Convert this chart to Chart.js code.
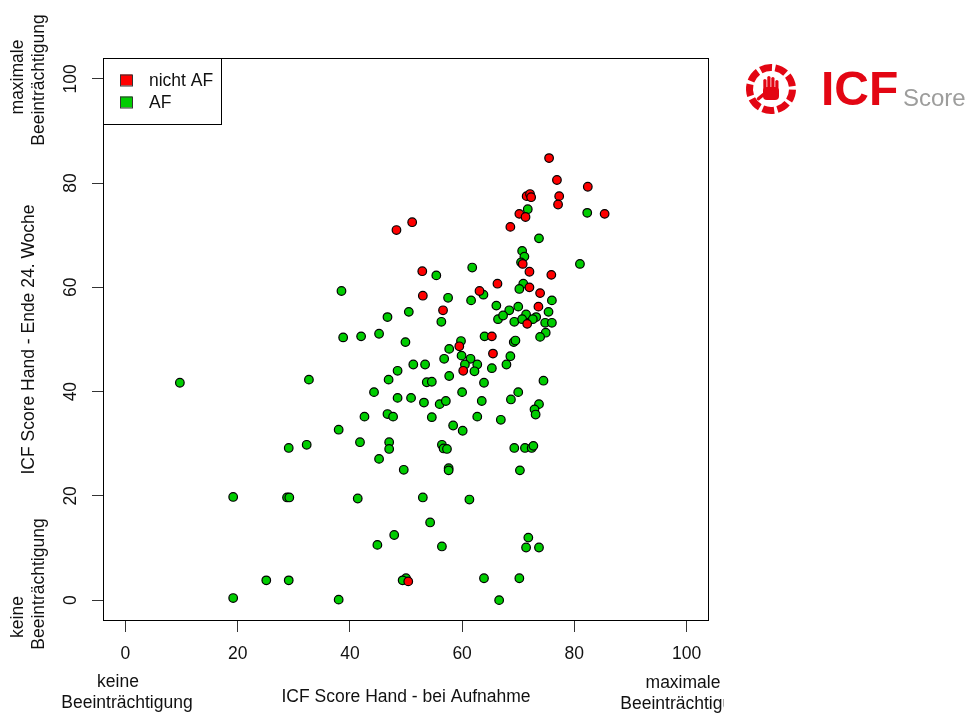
<!DOCTYPE html>
<html>
<head>
<meta charset="utf-8">
<script src="https://cdn.jsdelivr.net/npm/chart.js@4"></script>
<style>
  body { margin: 0; background: #fff; }
  canvas { display: block; }
</style>
</head>
<body>
<canvas id="icfChart" width="970" height="713"></canvas>
<script>
// Werte (Aufnahme = x, Ende 24. Woche = y)
const nichtAfX = [75.5, 76.9, 82.4, 71.5, 72.1, 72.3, 77.3, 77.1, 70.2, 71.3,
                  85.4, 48.3, 51.1, 68.6, 70.8, 72.0, 52.9, 75.9, 66.3, 72.0,
                  73.9, 53.0, 63.1, 56.6, 73.6, 71.6, 65.3, 59.5, 65.5, 60.2,
                  50.4];
const nichtAfY = [84.8, 80.6, 79.3, 77.5, 77.9, 77.3, 77.5, 75.9, 74.1, 73.5,
                  74.1, 71.0, 72.5, 71.6, 64.5, 63.0, 63.1, 62.4, 60.7, 60.0,
                  58.9, 58.4, 59.3, 55.6, 56.3, 53.0, 50.6, 48.7, 47.3, 44.0,
                  3.6];

const afX = [71.7, 82.3, 73.7, 70.7, 71.1, 70.5, 81.0, 55.4, 61.8, 70.9,
             70.2, 63.8, 57.5, 61.6, 76.0, 38.5, 66.1, 50.5, 46.7, 56.3,
             66.4, 38.8, 42.0, 45.2, 49.9, 64.0, 59.8, 57.7, 59.9, 56.8,
             61.5, 60.5, 62.7, 51.3, 53.4, 65.3, 62.2, 48.5, 46.9, 32.7,
             57.7, 63.9, 53.7, 54.6, 44.3, 60.0, 48.5, 50.9, 53.2, 56.0,
             57.1, 63.5, 42.6, 46.7, 47.7, 54.6, 62.7, 66.9, 58.4, 60.1,
             38.0, 70.0, 68.4, 67.3, 71.4, 73.2, 75.4, 69.3, 70.7, 72.6,
             74.8, 76.0, 74.9, 73.9, 69.2, 69.5, 68.6, 67.9, 74.5, 70.0,
             68.7, 73.7, 72.9, 73.1, 69.3, 71.2, 72.4, 72.7, 9.7, 29.1,
             32.3, 19.2, 28.8, 29.2, 25.1, 29.1, 19.2, 38.0, 41.8, 47.0,
             47.0, 56.4, 56.7, 57.3, 45.2, 49.6, 57.6, 57.6, 70.3, 41.4,
             53.0, 61.3, 54.3, 47.9, 44.9, 56.4, 71.8, 71.4, 73.7, 50.0,
             49.4, 63.9, 70.2, 66.6];
const afY = [75.0, 74.3, 69.4, 67.0, 65.9, 64.8, 64.5, 62.3, 63.8, 60.7,
             59.7, 58.6, 58.0, 57.5, 57.5, 59.3, 56.5, 55.3, 54.3, 53.4,
             53.9, 50.4, 50.6, 51.1, 49.5, 50.6, 49.7, 48.2, 46.9, 46.3,
             46.3, 45.2, 45.2, 45.2, 45.2, 44.5, 43.9, 44.0, 42.3, 42.3,
             43.0, 41.7, 41.8, 41.9, 39.9, 39.9, 38.8, 38.8, 37.9, 37.6,
             38.2, 38.2, 35.2, 35.7, 35.2, 35.1, 35.2, 34.6, 33.5, 32.5,
             32.7, 56.3, 55.6, 54.6, 54.8, 54.3, 55.3, 53.4, 53.9, 53.9,
             53.2, 53.2, 51.3, 50.5, 49.5, 49.8, 46.8, 45.2, 42.1, 39.9,
             38.5, 37.6, 36.6, 35.6, 29.2, 29.2, 29.2, 29.6, 41.7, 29.2,
             29.8, 19.8, 19.7, 19.7, 3.8, 3.8, 0.4, 0.1, 30.3, 30.3,
             29.0, 29.8, 29.1, 29.0, 27.1, 25.0, 25.3, 24.9, 24.9, 19.5,
             19.7, 19.3, 14.9, 12.5, 10.6, 10.3, 12.0, 10.1, 10.1, 4.2,
             3.8, 4.2, 4.2, 0.0];

const xTicks = [0, 20, 40, 60, 80, 100];
const yTicks = [0, 20, 40, 60, 80, 100];
const gruppen = ['nicht AF', 'AF'];

const FONT = "'Liberation Sans', Arial, sans-serif";
const FS = 17.5;
const ROT = '#ff0000';
const GRUEN = '#00cd00';
const LOGO_ROT = '#e30613';

function punkte(xs, ys) {
    return xs.map((x, i) => ({ x: x, y: ys[i] }));
}

// Text, der bei R um 90 Grad gedreht ist
function textGedreht(ctx, txt, x, y) {
    ctx.save();
    ctx.translate(x, y);
    ctx.rotate(-Math.PI / 2);
    ctx.fillText(txt, 0, 0);
    ctx.restore();
}

const rahmenUndText = {
    id: 'rahmenUndText',
    afterDraw(chart) {
        const ctx = chart.ctx;
        const a = chart.chartArea;
        const yScale = chart.scales.y;

        ctx.save();
        // Rahmen um die Plotfläche
        ctx.strokeStyle = '#000';
        ctx.lineWidth = 1;
        ctx.strokeRect(a.left + 0.5, a.top + 0.5, a.right - a.left - 1, a.bottom - a.top - 1);

        // Legende oben links
        ctx.strokeRect(a.left + 0.5, a.top + 0.5, 118, 66);
        const farben = [ROT, GRUEN];
        ctx.font = FS + 'px ' + FONT;
        ctx.textBaseline = 'middle';
        ctx.textAlign = 'left';
        gruppen.forEach((g, i) => {
            const y = a.top + 17 + i * 22;
            ctx.fillStyle = farben[i];
            ctx.fillRect(120, y - 0.5, 12, 11);
            ctx.strokeStyle = '#333';
            ctx.strokeRect(120.5, y, 12, 11);
            ctx.fillStyle = '#111';
            ctx.fillText(g, 149, y + 6.5);
        });

        // y-Achsenbeschriftung (gedreht wie in R)
        ctx.fillStyle = '#111';
        ctx.textAlign = 'center';
        yTicks.forEach(v => {
            textGedreht(ctx, String(v), 71, yScale.getPixelForValue(v));
        });

        // Achsentitel
        textGedreht(ctx, 'ICF Score Hand - Ende 24. Woche', 29, (a.top + a.bottom) / 2);
        ctx.fillText('ICF Score Hand - bei Aufnahme', (a.left + a.right) / 2, 697);

        // Erläuterungen an den Achsenenden
        textGedreht(ctx, 'maximale', 18, 77);
        textGedreht(ctx, 'Beeinträchtigung', 39, 80);
        textGedreht(ctx, 'keine', 18, 617);
        textGedreht(ctx, 'Beeinträchtigung', 39, 584);
        ctx.fillText('keine', 118, 682);
        ctx.fillText('Beeinträchtigung', 127, 703);
        ctx.save();
        ctx.beginPath();
        ctx.rect(0, 0, 724, 713);
        ctx.clip();
        ctx.fillText('maximale', 683, 683);
        ctx.fillText('Beeinträchtigung', 686, 704);
        ctx.restore();

        // Logo oben rechts
        const cx = 771, cy = 89;
        ctx.strokeStyle = LOGO_ROT;
        ctx.lineWidth = 7;
        for (let k = 0; k < 9; k++) {
            const s = -Math.PI / 2 + 0.2 + k * 2 * Math.PI / 9;
            ctx.beginPath();
            ctx.arc(cx, cy, 21.5, s, s + 2 * Math.PI / 9 * 0.78);
            ctx.stroke();
        }
        ctx.fillStyle = LOGO_ROT;
        ctx.beginPath();
        ctx.roundRect(763, 87, 16, 13, 4);
        ctx.fill();
        const fingerOffset = [3, 0, 1, 4];
        fingerOffset.forEach((o, i) => {
            ctx.beginPath();
            ctx.roundRect(763.3 + i * 4, 76 + o, 3.2, 14, 1.6);
            ctx.fill();
        });
        ctx.save();
        ctx.translate(764, 94);
        ctx.rotate(-0.7);
        ctx.beginPath();
        ctx.roundRect(-9, -1.7, 10, 3.4, 1.7);
        ctx.fill();
        ctx.restore();

        ctx.textAlign = 'left';
        ctx.textBaseline = 'alphabetic';
        ctx.font = 'bold 48px ' + FONT;
        ctx.fillText('ICF', 821, 105);
        ctx.fillStyle = '#9d9d9c';
        ctx.font = '24px ' + FONT;
        ctx.fillText('Score', 903, 106);
        ctx.restore();
    }
};

const ctxIcf = document.getElementById('icfChart').getContext('2d');
const icfChart = new Chart(ctxIcf, {
    type: 'scatter',
    data: {
        datasets: [{
            label: gruppen[0],
            data: punkte(nichtAfX, nichtAfY),
            backgroundColor: ROT,
            borderColor: '#000',
            borderWidth: 1.2,
            pointRadius: 4.3
        }, {
            label: gruppen[1],
            data: punkte(afX, afY),
            backgroundColor: GRUEN,
            borderColor: '#000',
            borderWidth: 1.2,
            pointRadius: 4.3
        }]
    },
    options: {
        responsive: false,
        animation: false,
        devicePixelRatio: 1,
        layout: { padding: { top: 58, right: 261, left: 0, bottom: 0 } },
        plugins: {
            legend: { display: false },
            tooltip: { enabled: false }
        },
        scales: {
            x: {
                type: 'linear',
                min: -4,
                max: 104,
                afterFit: function(scale) { scale.height = 92; },
                afterBuildTicks: function(scale) {
                    scale.ticks = xTicks.map(v => ({ value: v }));
                },
                border: { display: false },
                grid: { drawOnChartArea: false, drawTicks: true, tickLength: 11, color: '#333' },
                ticks: {
                    color: '#111',
                    padding: 12,
                    maxRotation: 0,
                    font: { family: FONT, size: FS }
                }
            },
            y: {
                type: 'linear',
                min: -4,
                max: 104,
                afterFit: function(scale) { scale.width = 103; },
                afterBuildTicks: function(scale) {
                    scale.ticks = yTicks.map(v => ({ value: v }));
                },
                border: { display: false },
                grid: { drawOnChartArea: false, drawTicks: true, tickLength: 11, color: '#333' },
                ticks: { display: false }
            }
        }
    },
    plugins: [rahmenUndText]
});
</script>
</body>
</html>
